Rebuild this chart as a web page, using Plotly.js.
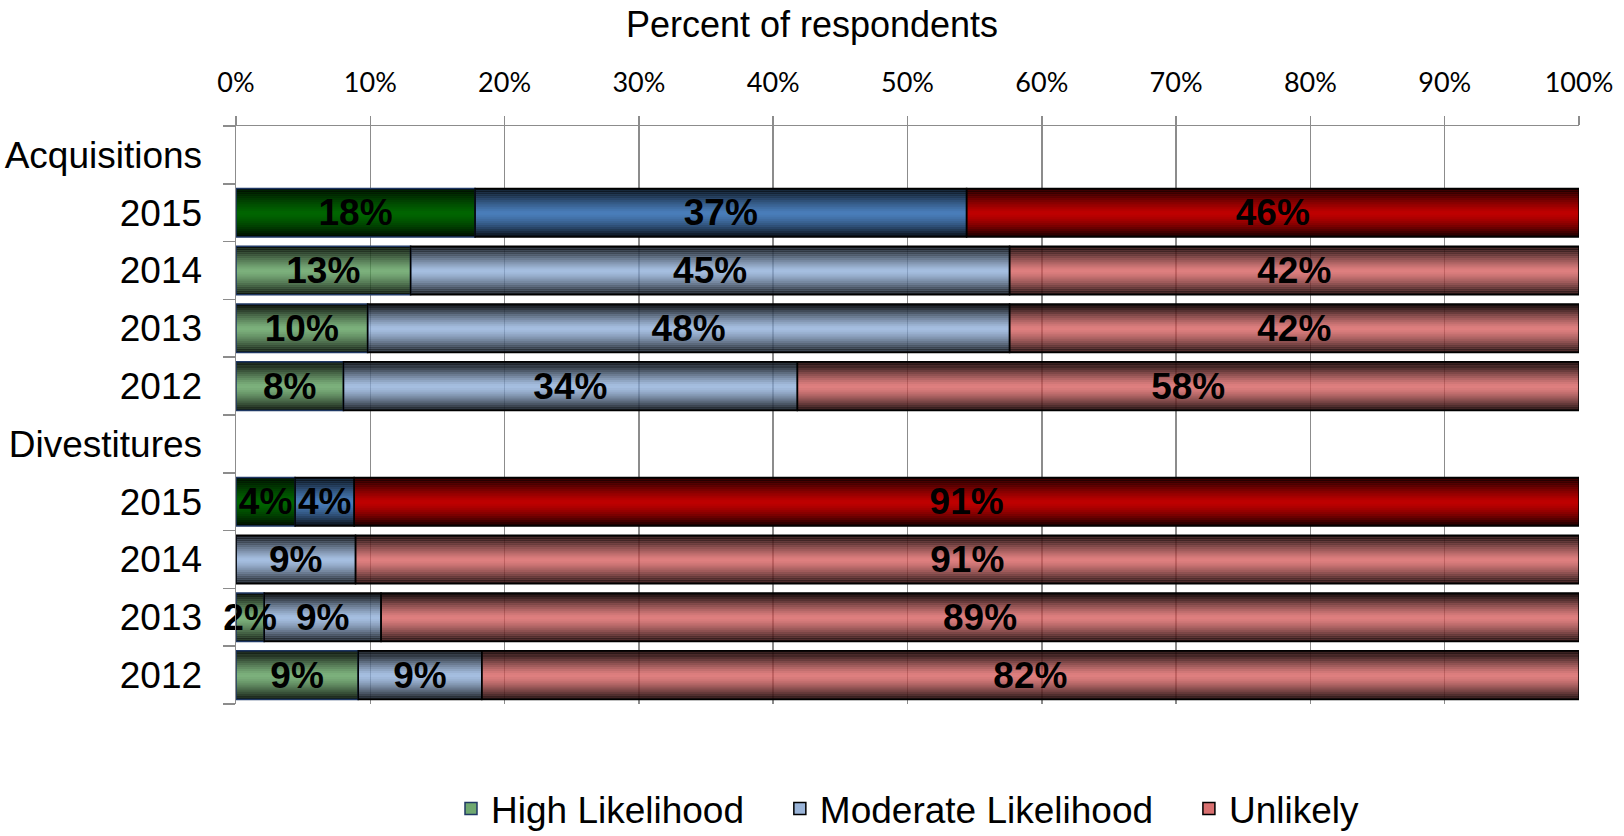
<!DOCTYPE html>
<html>
<head>
<meta charset="utf-8">
<script src="https://cdn.plot.ly/plotly-3.0.1.min.js"></script>
<style>
  html, body { margin: 0; padding: 0; background: #fff; }
  #chart { width: 1624px; height: 836px; }
</style>
</head>
<body>
<div id="chart"></div>
<script>
// Row labels, top to bottom (group headers carry no bars)
const rows = ['Acquisitions', '2015', '2014', '2013', '2012',
              'Divestitures', '2015', '2014', '2013', '2012'];

// Percent of respondents per likelihood level
const highLikelihood     = [null, 17.8, 13.0,  9.8,  8.0, null,  4.4,  0.0,  2.1,  9.1];
const moderateLikelihood = [null, 36.6, 44.6, 47.8, 33.8, null,  4.4,  8.9,  8.7,  9.2];
const unlikely           = [null, 45.6, 42.4, 42.4, 58.2, null, 91.2, 91.1, 89.2, 81.7];

const seriesNames = ['High Likelihood', 'Moderate Likelihood', 'Unlikely'];
const xTickValues = [0, 10, 20, 30, 40, 50, 60, 70, 80, 90, 100];

// ---- styling ----
const GRID = '#8c8c8c';
const BAR_W = 0.84;
// darkening bands from each bar edge inwards (glossy cylinder look)
const STRIPS = 12;
const stripW = BAR_W / 2 / STRIPS;
const topShade = Array.from({ length: STRIPS }, (_, k) => 0.95 * Math.pow(1 - (k + 0.5) / STRIPS, 1.25));
const bottomShade = Array.from({ length: STRIPS }, (_, k) => 0.92 * Math.pow(1 - (k + 0.5) / STRIPS, 1.5));

const series = [
  { name: seriesNames[0], values: highLikelihood,
    solid: '#006600', light: 'rgba(82,152,82,0.75)', legend: '#6fa870', edge: '#1f3864' },
  { name: seriesNames[1], values: moderateLikelihood,
    solid: '#4a7ebb', light: 'rgba(138,171,216,0.75)', legend: '#9ab4d8', edge: '#000000' },
  { name: seriesNames[2], values: unlikely,
    solid: '#c00000', light: 'rgba(214,86,86,0.75)', legend: '#d87070', edge: '#000000' }
];

const yIdx = rows.map((_, i) => i);
// where each segment starts along the stacked bar
const starts = series.map((s, si) =>
  rows.map((_, i) => series.slice(0, si).reduce((acc, p) => acc + (p.values[i] || 0), 0)));

const traces = [];
const common = { type: 'bar', orientation: 'h', y: yIdx, showlegend: false, hoverinfo: 'skip' };

series.forEach((s, si) => {
  // the latest year is drawn in solid colours, earlier years in lighter translucent ones
  const colors = rows.map(r => (r === '2015' ? s.solid : s.light));
  traces.push(Object.assign({}, common, {
    x: s.values, base: starts[si], width: BAR_W,
    marker: { color: colors, line: { width: 0 } }
  }));
  topShade.forEach((a, k) => traces.push(Object.assign({}, common, {
    x: s.values, base: starts[si], width: stripW, offset: -BAR_W / 2 + k * stripW,
    marker: { color: `rgba(0,0,0,${a.toFixed(3)})`, line: { width: 0 } }
  })));
  bottomShade.forEach((a, k) => traces.push(Object.assign({}, common, {
    x: s.values, base: starts[si], width: stripW, offset: BAR_W / 2 - (k + 1) * stripW,
    marker: { color: `rgba(0,0,0,${a.toFixed(3)})`, line: { width: 0 } }
  })));
});

// outlines and value labels on top of every segment
series.forEach((s, si) => {
  traces.push(Object.assign({}, common, {
    x: s.values, base: starts[si], width: BAR_W,
    marker: { color: 'rgba(0,0,0,0)', line: { color: s.edge, width: 1.5 } },
    text: s.values.map(v => (v ? Math.round(v) + '%' : '')),
    textposition: 'inside', insidetextanchor: 'middle', textangle: 0, constraintext: 'none',
    cliponaxis: false,
    textfont: { family: 'Liberation Sans, Arial, sans-serif', size: 37, color: '#000', weight: 700 }
  }));
});

// legend entries (extra trailing space keeps the entries apart)
series.forEach((s, si) => traces.push({
  type: 'bar', orientation: 'h',
  name: s.name + (si < series.length - 1 ? '\u00a0\u00a0\u00a0' : ''),
  x: [null], y: [null],
  marker: { color: s.legend, line: { color: s.edge, width: 1.5 } },
  showlegend: true, hoverinfo: 'skip'
}));

const boundaries = rows.map((_, i) => i - 0.5).concat([rows.length - 0.5]);

const layout = {
  width: 1624, height: 836,
  margin: { l: 236, r: 45, t: 126, b: 132, autoexpand: false },
  paper_bgcolor: '#fff', plot_bgcolor: '#fff',
  barmode: 'overlay',
  hovermode: false,
  font: { family: 'Liberation Sans, Arial, sans-serif', color: '#000' },
  title: {
    text: 'Percent of respondents',
    font: { family: 'Liberation Sans, Arial, sans-serif', size: 36, color: '#000' },
    x: 0.5, xref: 'container', xanchor: 'center',
    y: 1 - 24 / 836, yref: 'container', yanchor: 'middle'
  },
  xaxis: {
    side: 'top', range: [0, 100], fixedrange: true,
    tickmode: 'array', tickvals: xTickValues, ticktext: xTickValues.map(v => v + '%'),
    ticks: 'outside', ticklen: 9, tickwidth: 1.5, tickcolor: GRID,
    ticklabelstandoff: 13,
    tickfont: { family: 'Lato, sans-serif', size: 27, color: '#000' },
    showgrid: true, gridcolor: GRID, gridwidth: 1.5,
    showline: true, linecolor: GRID, linewidth: 1.5,
    zeroline: false
  },
  yaxis: {
    range: [rows.length - 0.5, -0.5], fixedrange: true,
    tickmode: 'array', tickvals: yIdx, ticktext: rows,
    ticks: '', ticklabelstandoff: 25,
    tickfont: { family: 'Liberation Sans, Arial, sans-serif', size: 37, color: '#000' },
    minor: { tickmode: 'array', tickvals: boundaries, ticks: 'outside', ticklen: 12,
             tickwidth: 1.5, tickcolor: GRID, showgrid: false },
    showgrid: false, zeroline: false,
    showline: true, linecolor: GRID, linewidth: 1.5
  },
  showlegend: true,
  legend: {
    orientation: 'h', x: 0.5, xanchor: 'center', xref: 'paper',
    y: 1 - 809 / 836, yref: 'container', yanchor: 'middle', traceorder: 'normal',
    font: { family: 'Liberation Sans, Arial, sans-serif', size: 37, color: '#000' },
    bgcolor: 'rgba(0,0,0,0)'
  }
};

Plotly.newPlot('chart', traces, layout, { displayModeBar: false, staticPlot: true });
</script>
</body>
</html>
